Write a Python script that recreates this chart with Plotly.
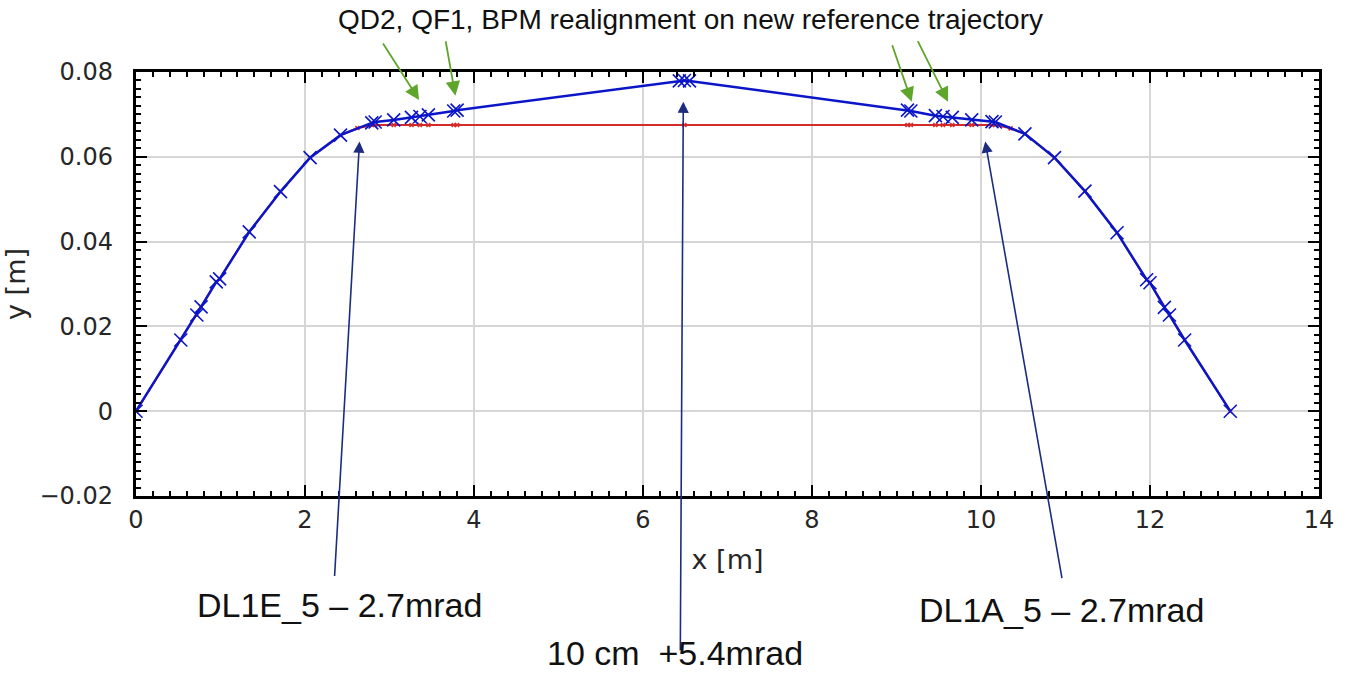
import plotly.graph_objects as go

# Blue: trajectory after realignment (new reference)
blue_x = [0, 0.53, 0.72, 0.77, 0.95, 0.99, 1.34, 1.71, 2.06, 2.42, 2.79, 2.83, 3.05, 3.26, 3.36, 3.46,
          3.76, 3.80, 6.43, 6.49, 6.55, 9.13, 9.17, 9.46, 9.55, 9.66, 9.89, 10.13, 10.17, 10.52,
          10.87, 11.23, 11.61, 11.96, 12.00, 12.17, 12.23, 12.41, 12.95]
blue_y = [0, 0.0168, 0.0227, 0.0246, 0.0305, 0.0312, 0.0423, 0.0518, 0.0598, 0.0651, 0.0680, 0.0682,
          0.0687, 0.0693, 0.0695, 0.0699, 0.0708, 0.0710, 0.0779, 0.0780, 0.0779, 0.0710, 0.0708,
          0.0697, 0.0695, 0.0693, 0.0687, 0.0683, 0.0682, 0.0654, 0.0598, 0.0519, 0.0421, 0.0310,
          0.0303, 0.0245, 0.0227, 0.0168, 0]

# Red: original reference trajectory
red_x = [0, 0.53, 0.72, 0.77, 0.95, 0.99, 1.34, 1.71, 2.06, 2.42, 2.62, 2.79, 2.83, 3.05, 3.26, 3.36,
         3.46, 3.76, 3.80, 6.49, 9.13, 9.17, 9.46, 9.55, 9.66, 9.89, 10.13, 10.17, 10.35, 10.52,
         10.87, 11.23, 11.61, 11.96, 12.00, 12.17, 12.23, 12.41, 12.95]
red_y = [0, 0.0168, 0.0227, 0.0246, 0.0305, 0.0312, 0.0423, 0.0518, 0.0598, 0.0651, 0.0668, 0.0675,
         0.0675, 0.0675, 0.0675, 0.0675, 0.0675, 0.0675, 0.0675, 0.0675, 0.0675, 0.0675, 0.0675,
         0.0675, 0.0675, 0.0675, 0.0675, 0.0675, 0.0667, 0.0654, 0.0598, 0.0519, 0.0421, 0.0310,
         0.0303, 0.0245, 0.0227, 0.0168, 0]

x_range = [0, 14]
y_range = [-0.02, 0.08]
x_major_step = 2
y_major_step = 0.02
x_minor_step = 0.2
y_minor_step = 0.002

top_note = "QD2, QF1, BPM realignment on new reference trajectory"
label_left = "DL1E_5 – 2.7mrad"
label_mid = "10 cm  +5.4mrad"
label_right = "DL1A_5 – 2.7mrad"

# green arrow tips (data coords) and offsets (px)
green_tip_x = [3.35, 3.78, 9.18, 9.61]
green_tip_y = [0.0734, 0.0744, 0.0730, 0.0730]
green_ax = [-37, -10, -20, -31]
green_ay = [-58, -56, -58, -62]

# navy arrows
navy_tip_x = [2.645, 6.477, 10.05]
navy_tip_y = [0.0636, 0.0730, 0.0636]
navy_ax = [-25, -3, 77]
navy_ay = [436, 550, 438]

fig = go.Figure()
fig.add_trace(go.Scatter(
    x=red_x, y=red_y, mode="lines+markers",
    line=dict(color="#d42a2a", width=2),
    marker=dict(symbol="x-thin", size=4, line=dict(color="#d42a2a", width=1.5)),
    showlegend=False))
fig.add_trace(go.Scatter(
    x=blue_x, y=blue_y, mode="lines+markers",
    line=dict(color="#0b16c8", width=2.5),
    marker=dict(symbol="x-thin", size=13, line=dict(color="#0b16c8", width=1.6)),
    showlegend=False))
# invisible trace that carries the overlay axes used only for the tick marks
fig.add_trace(go.Scatter(x=blue_x, y=blue_y, xaxis="x2", yaxis="y2", mode="lines",
                         line=dict(width=0), opacity=0, showlegend=False, hoverinfo="skip"))

tickfont = dict(family="DejaVu Sans", size=24, color="#262626")
titlefont = dict(family="DejaVu Sans", size=27, color="#262626")

fig.update_layout(
    width=1346, height=674, margin=dict(l=135, r=20, t=72, b=178),
    paper_bgcolor="white", plot_bgcolor="white",
    xaxis=dict(range=x_range, dtick=x_major_step, showline=True, linewidth=3, linecolor="black",
               mirror=True, ticks="", zeroline=False, showgrid=True, gridcolor="#d6d6d6",
               gridwidth=1.5, tickfont=tickfont,
               title=dict(text="x [m]", font=titlefont, standoff=18)),
    yaxis=dict(range=y_range, dtick=y_major_step, tickformat="~g", ticksuffix="\u00a0\u00a0",
               showline=True, linewidth=3, linecolor="black", mirror=True, ticks="",
               zeroline=False, showgrid=True, gridcolor="#d6d6d6", gridwidth=1.5, tickfont=tickfont,
               title=dict(text="y [m]", font=titlefont, standoff=8)),
    xaxis2=dict(overlaying="x", anchor="y2", side="bottom", range=x_range, dtick=x_major_step,
                showline=True, linewidth=3, linecolor="black", mirror="ticks",
                ticks="inside", ticklen=11, tickwidth=2, tickcolor="black",
                minor=dict(dtick=x_minor_step, ticks="inside", ticklen=5, tickwidth=1.5,
                           tickcolor="black"),
                showgrid=False, zeroline=False, showticklabels=False),
    yaxis2=dict(overlaying="y", anchor="x2", side="left", range=y_range, dtick=y_major_step,
                showline=True, linewidth=3, linecolor="black", mirror="ticks",
                ticks="inside", ticklen=11, tickwidth=2, tickcolor="black",
                minor=dict(dtick=y_minor_step, ticks="inside", ticklen=5, tickwidth=1.5,
                           tickcolor="black"),
                showgrid=False, zeroline=False, showticklabels=False),
)

# helper: pixel position in window -> paper coords
plot_w = 1346 - 135 - 20
plot_h = 674 - 72 - 178
def px_to_paper(px, py):
    return (px - 135) / plot_w, (674 - 178 - py) / plot_h

tx0, ty0 = px_to_paper(693, 20)
fig.add_annotation(x=tx0, y=ty0, xref="paper", yref="paper", text=top_note, showarrow=False,
                   font=dict(family="Liberation Sans", size=28, color="#111111"),
                   xanchor="center", yanchor="middle")

for tx, ty, ax, ay in zip(green_tip_x, green_tip_y, green_ax, green_ay):
    fig.add_annotation(x=tx, y=ty, xref="x", yref="y", ax=ax, ay=ay, axref="pixel", ayref="pixel",
                       text="", showarrow=True, arrowhead=2, arrowsize=1.6, arrowwidth=1.8,
                       arrowcolor="#5ea52c")
for tx, ty, ax, ay in zip(navy_tip_x, navy_tip_y, navy_ax, navy_ay):
    fig.add_annotation(x=tx, y=ty, xref="x", yref="y", ax=ax, ay=ay, axref="pixel", ayref="pixel",
                       text="", showarrow=True, arrowhead=2, arrowsize=1.4, arrowwidth=1.6,
                       arrowcolor="#1c2d80")

big = dict(family="Liberation Sans", size=34, color="#111111")
lx, ly = px_to_paper(340, 605)
mx, my = px_to_paper(678, 653)
rx, ry = px_to_paper(1067, 610)
fig.add_annotation(x=lx, y=ly, xref="paper", yref="paper", text=label_left, showarrow=False,
                   font=big, xanchor="center", yanchor="middle")
fig.add_annotation(x=mx, y=my, xref="paper", yref="paper", text=label_mid, showarrow=False,
                   font=big, xanchor="center", yanchor="middle")
fig.add_annotation(x=rx, y=ry, xref="paper", yref="paper", text=label_right, showarrow=False,
                   font=big, xanchor="center", yanchor="middle")

fig.write_html("out.html")
